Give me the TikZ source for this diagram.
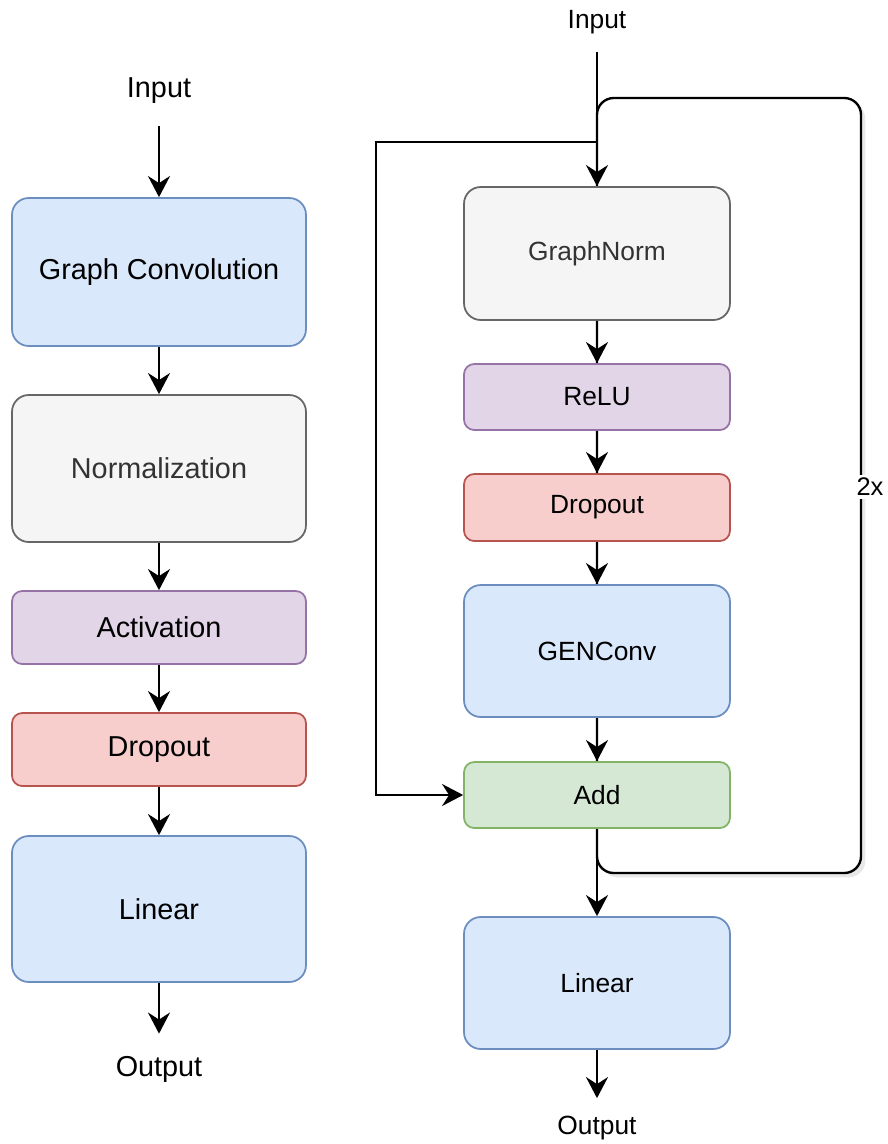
\documentclass[tikz,border=0pt]{standalone}
\usepackage{fontspec}
\setmainfont{Liberation Sans}
\usetikzlibrary{arrows.meta,shadows}
\definecolor{bluef}{HTML}{DAE8FC}\definecolor{blued}{HTML}{6C8EBF}
\definecolor{grayf}{HTML}{F5F5F5}\definecolor{grayd}{HTML}{666666}
\definecolor{purplef}{HTML}{E1D5E7}\definecolor{purpled}{HTML}{9673A6}
\definecolor{redf}{HTML}{F8CECC}\definecolor{redd}{HTML}{B85450}
\definecolor{greenf}{HTML}{D5E8D4}\definecolor{greend}{HTML}{82B366}
\definecolor{txtgray}{HTML}{333333}
\begin{document}
\begin{tikzpicture}[x=0.02cm,y=-0.02cm,>={Stealth[length=12pt,width=12.5pt,inset=4pt]},
    blk/.style={draw,line width=1pt,rounded corners=9.5pt,align=center},
    flat/.style={rounded corners=5.8pt},
    wide/.style={blk,minimum width=5.88cm,font=\fontsize{16.4}{20}\selectfont},
    narrow/.style={blk,minimum width=5.32cm,font=\fontsize{15}{18}\selectfont},
    bluebox/.style={fill=bluef,draw=blued},
    graybox/.style={fill=grayf,draw=grayd,text=txtgray},
    purplebox/.style={fill=purplef,draw=purpled},
    redbox/.style={fill=redf,draw=redd},
    greenbox/.style={fill=greenf,draw=greend},
    ioL/.style={inner sep=12.5pt,font=\fontsize{16.4}{20}\selectfont},
    ioR/.style={inner sep=10pt,font=\fontsize{15}{18}\selectfont},
    link/.style={->,line width=1.35pt}]
\useasboundingbox (0,0) rectangle (888,1144);

% repeat block
\draw[line width=1.35pt,rounded corners=9.5pt,fill=white,
    drop shadow={shadow xshift=2.5pt,shadow yshift=-2.5pt,opacity=0.18}]
    (597,98) rectangle (861,873);
\node[fill=white,inner sep=1.5pt,font=\fontsize{14.5}{16}\selectfont] (rep) at (870,487) {2x};

% left
\node[ioL] (inL) at (159,91) {Input};
\node[wide,bluebox,minimum height=2.96cm] (gc) at (159,272) {Graph Convolution};
\node[wide,graybox,minimum height=2.94cm] (norm) at (159,468.5) {Normalization};
\node[wide,purplebox,flat,minimum height=1.46cm] (act) at (159,627.5) {Activation};
\node[wide,redbox,flat,minimum height=1.46cm] (dropL) at (159,749.5) {Dropout};
\node[wide,bluebox,minimum height=2.92cm] (linL) at (159,909) {Linear};
\node[ioL] (outL) at (159,1069) {Output};

\draw[link] (inL) -- (gc);
\draw[link] (gc) -- (norm);
\draw[link] (norm) -- (act);
\draw[link] (act) -- (dropL);
\draw[link] (dropL) -- (linL);
\draw[link] (linL) -- (outL);

% right
\node[ioR] (inR) at (597,22) {Input};
\node[narrow,graybox,minimum height=2.66cm] (gn) at (597,253.5) {GraphNorm};
\node[narrow,purplebox,flat,minimum height=1.32cm] (relu) at (597,397) {ReLU};
\node[narrow,redbox,flat,minimum height=1.34cm] (dropR) at (597,507.5) {Dropout};
\node[narrow,bluebox,minimum height=2.64cm] (gen) at (597,651) {GENConv};
\node[narrow,greenbox,flat,minimum height=1.32cm] (add) at (597,795) {Add};
\node[narrow,bluebox,minimum height=2.64cm] (linR) at (597,983) {Linear};
\node[ioR] (outR) at (597,1128) {Output};

\coordinate (split) at (597,142);
\coordinate (detour) at (376,142);

\draw[link] (inR) -- (gn);
\draw[link] (split) -- (detour) |- (add);
\draw[link] (gn) -- (relu);
\draw[link] (relu) -- (dropR);
\draw[link] (dropR) -- (gen);
\draw[link] (gen) -- (add);
\draw[link] (add) -- (linR);
\draw[link] (linR) -- (outR);

\end{tikzpicture}
\end{document}
